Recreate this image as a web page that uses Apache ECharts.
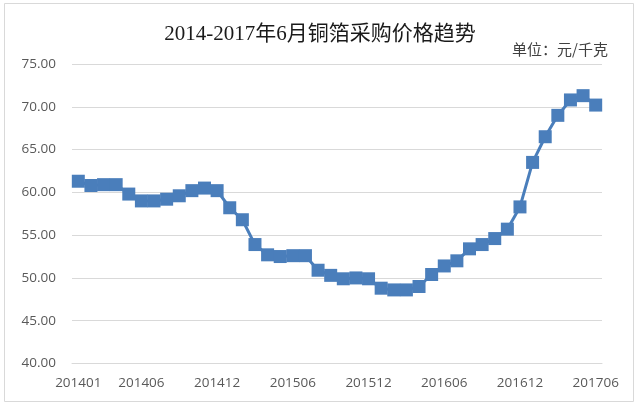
<!DOCTYPE html>
<html>
<head>
<meta charset="utf-8">
<script src="https://cdn.jsdelivr.net/npm/echarts@6/dist/echarts.min.js"></script>
<style>html,body{margin:0;padding:0;background:#fff}#c{width:640px;height:408px}</style>
</head>
<body>
<div id="c"></div>
<script>
const months = ['201401','201402','201403','201404','201405','201406','201407','201408','201409','201410','201411','201412',
'201501','201502','201503','201504','201505','201506','201507','201508','201509','201510','201511','201512',
'201601','201602','201603','201604','201605','201606','201607','201608','201609','201610','201611','201612',
'201701','201702','201703','201704','201705','201706'];
const prices = [61.3,60.8,60.9,60.9,59.8,59.0,59.0,59.2,59.6,60.2,60.5,60.2,
58.2,56.8,53.9,52.7,52.5,52.6,52.6,50.9,50.3,49.9,50.0,49.9,
48.8,48.6,48.6,49.0,50.4,51.4,52.0,53.4,53.9,54.6,55.7,58.3,
63.5,66.5,69.0,70.8,71.3,70.2];
const shownLabels = ['201401','201406','201412','201506','201512','201606','201612','201706'];
const titleText = '2014-2017年6月铜箔采购价格趋势';
const unitText = '单位：元/千克';

const chart = echarts.init(document.getElementById('c'));
chart.setOption({
  animation: false,
  backgroundColor: '#fff',
  graphic: [{
    type: 'rect', shape: {x: 4.5, y: 3.5, width: 629, height: 398},
    style: {fill: 'none', stroke: '#d9d9d9', lineWidth: 1}, silent: true
  }],
  title: [{
    text: titleText, left: 'center', top: 19,
    textStyle: {fontFamily: "'Liberation Serif','Noto Sans CJK SC'", fontSize: 21, fontWeight: 'normal', color: '#1a1a1a'}
  }, {
    text: unitText, right: 27, top: 37,
    textStyle: {fontFamily: "'Noto Sans CJK SC'", fontSize: 15, fontWeight: 'normal', color: '#404040'}
  }],
  grid: {left: 72, right: 38, top: 64, bottom: 44.5, containLabel: false},
  xAxis: {
    type: 'category', data: months, boundaryGap: true,
    axisLine: {show: true, lineStyle: {color: '#d9d9d9'}},
    axisTick: {show: false},
    axisLabel: {
      interval: function (i, v) { return shownLabels.indexOf(v) >= 0; },
      color: '#595959', fontSize: 13.5, fontFamily: "'Open Sans','Noto Sans'", margin: 13
    },
    splitLine: {show: false}
  },
  yAxis: {
    type: 'value', min: 40, max: 75, interval: 5,
    axisLine: {show: false}, axisTick: {show: false},
    axisLabel: {
      formatter: v => v.toFixed(2), color: '#595959', fontSize: 13.5,
      fontFamily: "'Open Sans','Noto Sans'", margin: 16
    },
    splitLine: {lineStyle: {color: '#d9d9d9', width: 1}}
  },
  series: [{
    type: 'line', data: prices,
    symbol: 'rect', symbolSize: 13, showSymbol: true, showAllSymbol: true,
    lineStyle: {color: '#4a7ebb', width: 3},
    itemStyle: {color: '#4a7ebb'}
  }]
});
</script>
</body>
</html>
